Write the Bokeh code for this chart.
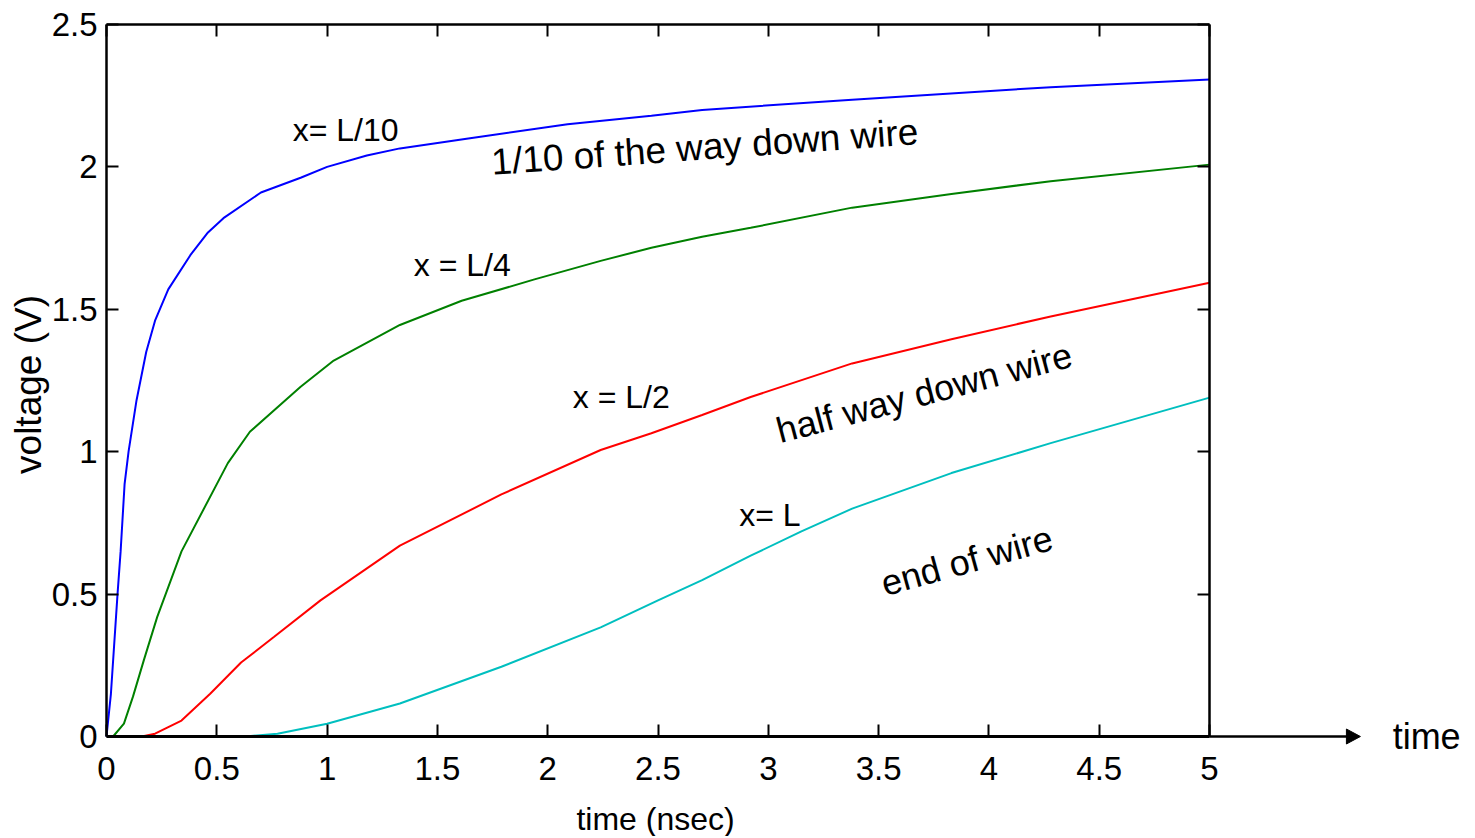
import math
from bokeh.plotting import figure
from bokeh.models import Range1d, LinearAxis, FixedTicker, Label
from bokeh.embed import file_html
from bokeh.resources import INLINE

# ---- data ----
t_l10 = [0, 0.02, 0.05, 0.064, 0.082, 0.10, 0.136, 0.18, 0.22, 0.28, 0.38, 0.46, 0.53, 0.70, 0.88,
         1.0, 1.18, 1.33, 1.64, 2.09, 2.47, 2.70, 3.38, 4.28, 5.0]
v_l10 = [0, 0.15, 0.50, 0.65, 0.886, 1.0, 1.18, 1.35, 1.46, 1.57, 1.69, 1.77, 1.82, 1.91, 1.962,
         2.0, 2.04, 2.065, 2.10, 2.15, 2.18, 2.20, 2.236, 2.28, 2.307]

t_l4 = [0.03, 0.079, 0.12, 0.17, 0.23, 0.34, 0.55, 0.65, 0.88, 1.03, 1.33, 1.61, 1.94, 2.24, 2.47,
        2.70, 2.92, 3.38, 3.83, 4.28, 5.0]
v_l4 = [0, 0.045, 0.14, 0.27, 0.42, 0.65, 0.96, 1.07, 1.228, 1.32, 1.445, 1.53, 1.605, 1.67, 1.716,
        1.755, 1.786, 1.857, 1.905, 1.95, 2.008]

t_l2 = [0.16, 0.22, 0.34, 0.47, 0.61, 0.76, 0.97, 1.33, 1.79, 2.24, 2.47, 2.70, 2.92,
        3.38, 3.83, 4.28, 5.0]
v_l2 = [0, 0.01, 0.056, 0.15, 0.26, 0.35, 0.478, 0.67, 0.85, 1.006, 1.065, 1.129, 1.192,
        1.31, 1.395, 1.475, 1.593]

t_l = [0.63, 0.775, 1.0, 1.33, 1.79, 2.24, 2.50, 2.70, 2.92, 3.15, 3.38, 3.83, 4.28, 5.0]
v_l = [0, 0.01, 0.045, 0.116, 0.245, 0.383, 0.478, 0.549, 0.635, 0.72, 0.80, 0.925, 1.03, 1.19]

x_ticks = [0, 0.5, 1, 1.5, 2, 2.5, 3, 3.5, 4, 4.5, 5]
x_tick_labels = ["0", "0.5", "1", "1.5", "2", "2.5", "3", "3.5", "4", "4.5", "5"]
y_ticks = [0, 0.5, 1, 1.5, 2, 2.5]
y_tick_labels = ["0", "0.5", "1", "1.5", "2", "2.5"]

X_MIN, X_MAX = 0.0, 5.0
Y_MIN, Y_MAX = 0.0, 2.5

# The frame covers the whole figure, so that the extended time axis, its arrow
# and all the axis texts lie inside it; the plot box itself is drawn by four
# axes pinned to the data limits and bounded to the data ranges.
X_VIEW_START = -0.4805
X_VIEW_END = 6.183
Y_VIEW_START = -0.3511
Y_VIEW_END = 2.5843
ARROW_TIP = 5.684
HEAD_LEN = 0.0635
HEAD_HALF = 0.0263

FONT = "Liberation Sans"
W, H = 1470, 836

p = figure(width=W, height=H, output_backend="svg", toolbar_location=None,
           x_range=Range1d(X_VIEW_START, X_VIEW_END), y_range=Range1d(Y_VIEW_START, Y_VIEW_END),
           x_axis_location=None, y_axis_location=None,
           min_border_left=0, min_border_right=0, min_border_top=0, min_border_bottom=0)
p.grid.visible = False
p.outline_line_color = None
p.background_fill_color = "white"
p.border_fill_color = "white"

def style_axis(ax, ticks, labels, show_labels=True):
    ax.ticker = FixedTicker(ticks=ticks)
    ax.major_label_overrides = {k: l for k, l in zip(ticks, labels)}
    ax.major_tick_in = 12
    ax.major_tick_out = 0
    ax.minor_tick_in = 0
    ax.minor_tick_out = 0
    ax.major_tick_line_color = "black"
    ax.major_tick_line_width = 2
    ax.axis_line_color = "black"
    ax.axis_line_width = 2.5
    ax.major_label_text_font = FONT
    ax.major_label_text_color = "black"
    if show_labels:
        ax.major_label_text_font_size = "33px"
    else:
        ax.major_label_text_font_size = "0px"
        ax.major_label_text_alpha = 0
        ax.major_label_standoff = 0

# bottom (time) axis, pinned at v = 0
xa = LinearAxis(fixed_location=Y_MIN, bounds=(X_MIN, X_MAX))
style_axis(xa, x_ticks, x_tick_labels)
xa.axis_line_width = 3
xa.major_label_standoff = 20
p.add_layout(xa, "below")

# left (voltage) axis, pinned at t = 0
ya = LinearAxis(fixed_location=X_MIN, bounds=(Y_MIN, Y_MAX))
style_axis(ya, y_ticks, y_tick_labels)
ya.major_label_standoff = 9
p.add_layout(ya, "left")

# top and right edges of the box, ticks inward
top = LinearAxis(fixed_location=Y_MAX, bounds=(X_MIN, X_MAX))
style_axis(top, x_ticks, x_tick_labels, show_labels=False)
p.add_layout(top, "above")
right = LinearAxis(fixed_location=X_MAX, bounds=(Y_MIN, Y_MAX))
style_axis(right, y_ticks, y_tick_labels, show_labels=False)
p.add_layout(right, "right")

# axis titles
p.add_layout(Label(x=2.489, y=-0.288, text="time (nsec)", text_font=FONT, text_font_size="32px",
                   text_baseline="middle", text_align="center", text_color="black"))
p.add_layout(Label(x=-0.3536, y=1.236, text="voltage (V)", text_font=FONT, text_font_size="37px",
                   text_baseline="middle", text_align="center", angle=math.pi / 2,
                   text_color="black"))

p.line(t_l10, v_l10, line_color="#0000ff", line_width=2)
p.line(t_l4, v_l4, line_color="#008000", line_width=2)
p.line(t_l2, v_l2, line_color="#ff0000", line_width=2)
p.line(t_l, v_l, line_color="#00bfbf", line_width=2)

# extension of the time axis with its arrow head
p.segment(x0=[X_MAX], y0=[Y_MIN], x1=[ARROW_TIP - HEAD_LEN + 0.01], y1=[Y_MIN],
          line_color="black", line_width=2.5)
p.patch([ARROW_TIP - HEAD_LEN, ARROW_TIP, ARROW_TIP - HEAD_LEN],
        [Y_MIN + HEAD_HALF, Y_MIN, Y_MIN - HEAD_HALF],
        fill_color="black", line_color="black", line_width=1)
p.add_layout(Label(x=5.83, y=Y_MIN, text="time", text_font=FONT, text_font_size="36px",
                   text_baseline="middle", text_align="left", text_color="black"))

# curve labels
for txt, x, y in [("x= L/10", 0.844, 2.131), ("x = L/4", 1.393, 1.656),
                  ("x = L/2", 2.114, 1.192), ("x= L", 2.868, 0.777)]:
    p.add_layout(Label(x=x, y=y, text=txt, text_font=FONT, text_font_size="32px",
                       text_baseline="middle", text_align="left", text_color="black"))

for txt, x, y, ang, fs in [("1/10 of the way down wire", 1.745, 2.016, 0.072, "37px"),
                           ("half way down wire", 3.040, 1.072, 0.2566, "36px"),
                           ("end of wire", 3.515, 0.535, 0.27, "36px")]:
    p.add_layout(Label(x=x, y=y, text=txt, text_font=FONT, text_font_size=fs,
                       text_baseline="alphabetic", text_align="left", angle=ang,
                       text_color="black"))

open("out.html", "w").write(file_html(p, INLINE))
